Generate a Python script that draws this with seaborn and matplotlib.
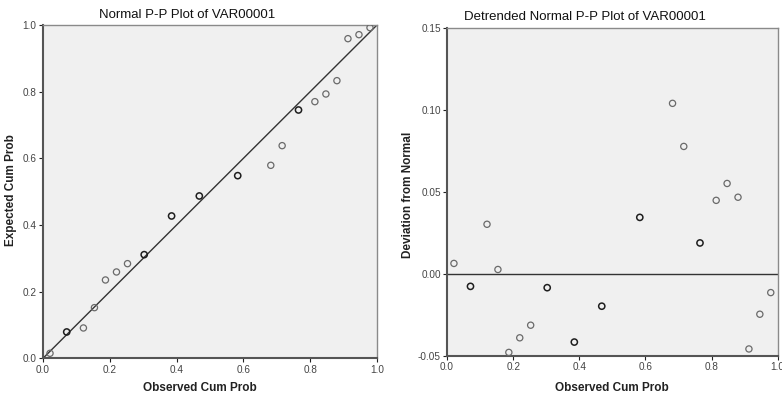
import matplotlib
matplotlib.use("Agg")
import matplotlib.pyplot as plt
import seaborn as sns
import pandas as pd

# Data
observed = [0.021, 0.071, 0.121, 0.154, 0.187, 0.220, 0.253, 0.303, 0.385, 0.468,
            0.583, 0.682, 0.716, 0.765, 0.814, 0.847, 0.880, 0.913, 0.946, 0.979]
expected = [0.015, 0.079, 0.091, 0.152, 0.235, 0.259, 0.284, 0.311, 0.427, 0.487,
            0.548, 0.579, 0.638, 0.745, 0.770, 0.793, 0.833, 0.959, 0.971, 0.992]
deviation = [0.0065, -0.0075, 0.0304, 0.0028, -0.0478, -0.0389, -0.0312, -0.0083, -0.0415, -0.0196,
             0.0346, 0.1042, 0.0779, 0.0190, 0.0450, 0.0553, 0.0469, -0.0457, -0.0245, -0.0113]
freq = [1, 2, 1, 1, 1, 1, 1, 2, 2, 2,
        2, 1, 1, 2, 1, 1, 1, 1, 1, 1]

x_ticks = [0.0, 0.2, 0.4, 0.6, 0.8, 1.0]
y_ticks_left = [0.0, 0.2, 0.4, 0.6, 0.8, 1.0]
y_ticks_right = [-0.05, 0.00, 0.05, 0.10, 0.15]

df = pd.DataFrame({"obs": observed, "exp": expected, "dev": deviation, "freq": freq})

sns.set_style("white")
plt.rcParams["font.family"] = ["Liberation Sans", "DejaVu Sans"]

fig = plt.figure(figsize=(7.82, 3.94), dpi=100)
W, H = 782, 394
axL = fig.add_axes([43 / W, (H - 358.3) / H, 334 / W, 333.3 / H])
axR = fig.add_axes([447 / W, (H - 356) / H, 330.7 / W, 327.7 / H])

bg = "#F0F0F0"
line_col = "#333333"


def draw_points(ax, ycol):
    single = df[df["freq"] == 1]
    multi = df[df["freq"] > 1]
    sns.scatterplot(data=single, x="obs", y=ycol, ax=ax, marker="o", s=20,
                    facecolor="none", edgecolor="#6a6a6a", linewidth=0.9, zorder=3)
    sns.scatterplot(data=multi, x="obs", y=ycol, ax=ax, marker="o", s=20,
                    facecolor="none", edgecolor="#1e1e1e", linewidth=1.1, zorder=3)


def style(ax, yticks, yfmt, ylim):
    ax.set_facecolor(bg)
    ax.set_xlim(0, 1)
    ax.set_ylim(*ylim)
    ax.set_xticks(x_ticks)
    ax.set_xticklabels([f"{t:.1f}" for t in x_ticks])
    ax.set_yticks(yticks)
    ax.set_yticklabels([yfmt.format(t) for t in yticks])
    ax.tick_params(axis="both", which="both", direction="out", length=3, width=0.8,
                   labelsize=7.2, colors="#222222", labelcolor="#444444", pad=1.5,
                   left=True, bottom=True, top=False, right=False)
    for side in ["left", "bottom"]:
        ax.spines[side].set_color("#555555")
        ax.spines[side].set_linewidth(1.5)
    for side in ["top", "right"]:
        ax.spines[side].set_color("#8a8a8a")
        ax.spines[side].set_linewidth(1.0)
    ax.set_xlabel("")
    ax.set_ylabel("")


# Left: Normal P-P plot
axL.plot([0, 1], [0, 1], color=line_col, linewidth=1.0, zorder=2)
draw_points(axL, "exp")
style(axL, y_ticks_left, "{:.1f}", (0, 1))

# Right: Detrended
axR.axhline(0, color=line_col, linewidth=1.0, zorder=2)
draw_points(axR, "dev")
style(axR, y_ticks_right, "{:.2f}", (-0.05, 0.15))

# Titles and labels
fig.text(187 / W, 1 - 15 / H, "Normal P-P Plot of VAR00001", ha="center", va="center",
         fontsize=9.5, color="#111111")
fig.text(585 / W, 1 - 17 / H, "Detrended Normal P-P Plot of VAR00001", ha="center", va="center",
         fontsize=9.5, color="#111111")
fig.text(200 / W, 1 - 388 / H, "Observed Cum Prob", ha="center", va="center",
         fontsize=8.5, fontweight="bold", color="#222222")
fig.text(612 / W, 1 - 388 / H, "Observed Cum Prob", ha="center", va="center",
         fontsize=8.5, fontweight="bold", color="#222222")
fig.text(11 / W, 1 - 190 / H, "Expected Cum Prob", ha="center", va="center",
         rotation=90, fontsize=8.5, fontweight="bold", color="#222222")
fig.text(408 / W, 1 - 195 / H, "Deviation from Normal", ha="center", va="center",
         rotation=90, fontsize=8.5, fontweight="bold", color="#222222")

fig.savefig("out.png", dpi=100, facecolor="white")
